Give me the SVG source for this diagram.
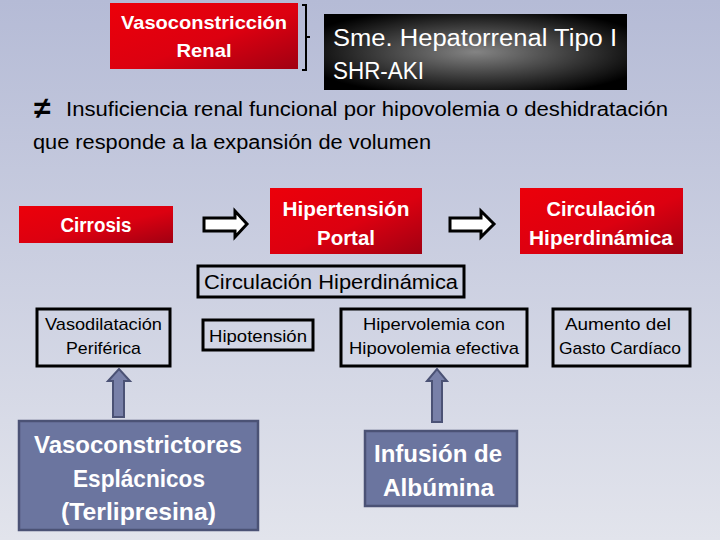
<svg xmlns="http://www.w3.org/2000/svg" width="720" height="540" viewBox="0 0 720 540">
<defs>
<linearGradient id="bg" x1="0" y1="0" x2="0" y2="1">
<stop offset="0" stop-color="#b5bbd6"/>
<stop offset="1" stop-color="#e2e4ec"/>
</linearGradient>
<linearGradient id="red" x1="0" y1="0" x2="1" y2="1">
<stop offset="0" stop-color="#ec000a"/>
<stop offset="0.55" stop-color="#dc0010"/>
<stop offset="1" stop-color="#a00012"/>
</linearGradient>
<radialGradient id="blk" cx="0.5" cy="0.5" r="0.6">
<stop offset="0" stop-color="#848484"/>
<stop offset="1" stop-color="#000"/>
</radialGradient>
<style>
.t{font-family:"Liberation Sans",Arial,sans-serif;}
.wb{fill:#fff;font-weight:bold;}
.k{fill:#000;}
.red{fill:url(#red);}
.ob{fill:none;stroke:#000;stroke-width:3;}
.blue{fill:#6b759f;stroke:#4b5275;stroke-width:2.5;}
.up{fill:#7880a8;stroke:#4b5275;stroke-width:2;}
.wa{fill:#fff;stroke:#000;stroke-width:3;stroke-linejoin:miter;}
</style>
</defs>
<rect width="720" height="540" fill="url(#bg)"/>

<g id="vasoconstriccion">
<rect class="red" x="110" y="3" width="188" height="66"/>
<text class="t wb" x="204" y="29" font-size="19" text-anchor="middle" textLength="166" lengthAdjust="spacingAndGlyphs">Vasoconstricción</text>
<text class="t wb" x="204" y="57" font-size="19" text-anchor="middle" textLength="55" lengthAdjust="spacingAndGlyphs">Renal</text>
</g>

<g id="sme">
<rect x="324" y="14" width="303" height="76" fill="url(#blk)"/>
<text class="t" x="333" y="46" font-size="23" fill="#fff" textLength="284" lengthAdjust="spacingAndGlyphs">Sme. Hepatorrenal Tipo I</text>
<text class="t" x="333" y="79" font-size="23" fill="#fff" textLength="91" lengthAdjust="spacingAndGlyphs">SHR-AKI</text>
</g>

<g id="insuficiencia">
<text class="t k" x="34" y="118" font-size="30" font-weight="bold">≠</text>
<text class="t k" x="66" y="116" font-size="20" textLength="602" lengthAdjust="spacingAndGlyphs">Insuficiencia renal funcional por hipovolemia o deshidratación</text>
<text class="t k" x="33" y="149" font-size="20" textLength="398" lengthAdjust="spacingAndGlyphs">que responde a la expansión de volumen</text>
</g>

<g id="cirrosis">
<rect class="red" x="19" y="206" width="154" height="37"/>
<text class="t wb" x="96" y="232" font-size="20" text-anchor="middle" textLength="71" lengthAdjust="spacingAndGlyphs">Cirrosis</text>
</g>

<g id="hipertension">
<rect class="red" x="270" y="188" width="152" height="66"/>
<text class="t wb" x="346" y="216" font-size="20" text-anchor="middle" textLength="127" lengthAdjust="spacingAndGlyphs">Hipertensión</text>
<text class="t wb" x="346" y="245" font-size="20" text-anchor="middle" textLength="58" lengthAdjust="spacingAndGlyphs">Portal</text>
</g>

<g id="circ-red">
<rect class="red" x="520" y="188" width="163" height="66"/>
<text class="t wb" x="601" y="216" font-size="20" text-anchor="middle" textLength="109" lengthAdjust="spacingAndGlyphs">Circulación</text>
<text class="t wb" x="601" y="245" font-size="20" text-anchor="middle" textLength="144" lengthAdjust="spacingAndGlyphs">Hiperdinámica</text>
</g>

<g id="circ-box">
<rect class="ob" x="198" y="266" width="266" height="31"/>
<text class="t k" x="331" y="289" font-size="20" text-anchor="middle" textLength="254" lengthAdjust="spacingAndGlyphs">Circulación Hiperdinámica</text>
</g>

<g id="vasodilatacion">
<rect class="ob" x="37" y="309" width="133" height="57"/>
<text class="t k" x="103.5" y="330" font-size="17" text-anchor="middle" textLength="117" lengthAdjust="spacingAndGlyphs">Vasodilatación</text>
<text class="t k" x="103.5" y="354" font-size="17" text-anchor="middle" textLength="75" lengthAdjust="spacingAndGlyphs">Periférica</text>
</g>

<g id="hipotension">
<rect class="ob" x="203" y="320" width="110" height="30"/>
<text class="t k" x="258" y="342" font-size="17" text-anchor="middle" textLength="98" lengthAdjust="spacingAndGlyphs">Hipotensión</text>
</g>

<g id="hipervolemia">
<rect class="ob" x="341" y="309" width="186" height="57"/>
<text class="t k" x="434" y="330" font-size="17" text-anchor="middle" textLength="142" lengthAdjust="spacingAndGlyphs">Hipervolemia con</text>
<text class="t k" x="434" y="354" font-size="17" text-anchor="middle" textLength="170" lengthAdjust="spacingAndGlyphs">Hipovolemia efectiva</text>
</g>

<g id="gasto">
<rect class="ob" x="553" y="309" width="137" height="57"/>
<text class="t k" x="618" y="330" font-size="17" text-anchor="middle" textLength="106" lengthAdjust="spacingAndGlyphs">Aumento del</text>
<text class="t k" x="620" y="354" font-size="17" text-anchor="middle" textLength="122" lengthAdjust="spacingAndGlyphs">Gasto Cardíaco</text>
</g>

<g id="vasoconstrictores">
<rect class="blue" x="19" y="421" width="239" height="109"/>
<text class="t wb" x="138" y="453" font-size="24" text-anchor="middle" textLength="208" lengthAdjust="spacingAndGlyphs">Vasoconstrictores</text>
<text class="t wb" x="139" y="487" font-size="24" text-anchor="middle" textLength="132" lengthAdjust="spacingAndGlyphs">Esplácnicos</text>
<text class="t wb" x="138.5" y="520" font-size="24" text-anchor="middle" textLength="155" lengthAdjust="spacingAndGlyphs">(Terlipresina)</text>
</g>

<g id="albumina">
<rect class="blue" x="365" y="431" width="152" height="75"/>
<text class="t wb" x="438" y="462" font-size="24" text-anchor="middle" textLength="128" lengthAdjust="spacingAndGlyphs">Infusión de</text>
<text class="t wb" x="438.5" y="496" font-size="24" text-anchor="middle" textLength="111" lengthAdjust="spacingAndGlyphs">Albúmina</text>
</g>

<g id="connectors">
<path d="M302 5H306V70H302M306 37H310" fill="none" stroke="#000" stroke-width="2"/>
<polygon class="wa" points="204,218 235,218 235,211 247,224 235,237 235,231 204,231"/>
<polygon class="wa" points="450,218 481,218 481,211 494,224 481,237 481,231 450,231"/>
<polygon class="up" points="113,417 113,381 108,381 119,369 130,381 124,381 124,417"/>
<polygon class="up" points="432,422 432,381 427,381 437,369 447,381 442,381 442,422"/>
</g>
</svg>
